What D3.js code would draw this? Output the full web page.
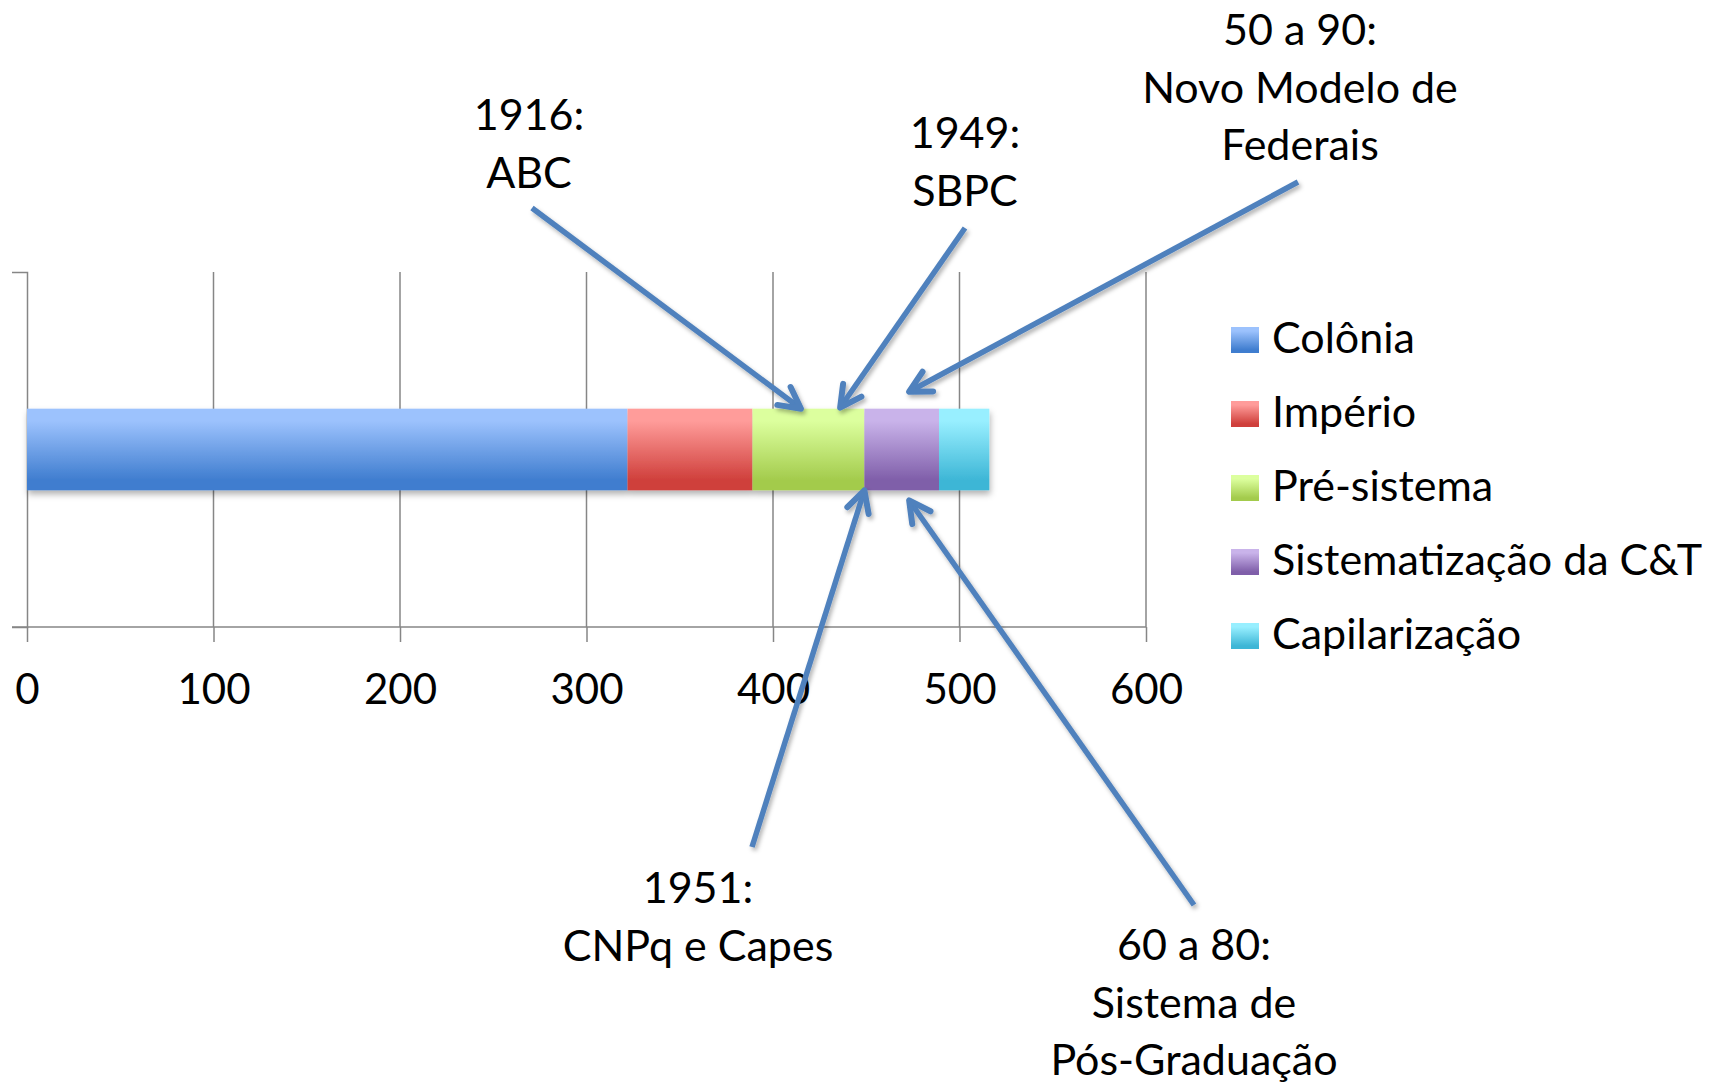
<!DOCTYPE html>
<html>
<head>
<meta charset="utf-8">
<script src="https://cdn.jsdelivr.net/npm/d3@7"></script>
<style>
  body { margin: 0; background: #fff; }
  svg text { font-family: Lato, "Open Sans", sans-serif; fill: #000; }
</style>
</head>
<body>
<div id="chart"></div>
<script>
// periods (years spent in each phase, stacked from 1500)
const periods = ["Colônia", "Império", "Pré-sistema", "Sistematização da C&T", "Capilarização"];
const periodYears = [322, 67, 60, 40, 27];
const xTicks = [0, 100, 200, 300, 400, 500, 600];

// gradient colours per period: [top, bottom]
const topColors = ["#9cc2fd", "#ff9c9a", "#dcff9e", "#c9b3ea", "#98efff"];
const bottomColors = ["#3f7dcf", "#cf3f3b", "#a3cb4c", "#7f5ea9", "#3db6d6"];

// annotation texts and the value on the bar each arrow points to
const notes = [
  ["1916:", "ABC"],
  ["1949:", "SBPC"],
  ["50 a 90:", "Novo Modelo de", "Federais"],
  ["1951:", "CNPq e Capes"],
  ["60 a 80:", "Sistema de", "Pós-Graduação"]
];
const noteTargets = [415, 436, 473, 449, 473];
const noteSides = ["top", "top", "top", "bottom", "bottom"];

const width = 1714, height = 1084;
const fontSize = 42;

const svg = d3.select("#chart").append("svg")
    .attr("width", width)
    .attr("height", height);

const defs = svg.append("defs");

periods.forEach((p, i) => {
    const g = defs.append("linearGradient")
        .attr("id", "grad" + i)
        .attr("x1", 0).attr("y1", 0).attr("x2", 0).attr("y2", 1);
    g.append("stop").attr("offset", "0%").attr("stop-color", topColors[i]);
    g.append("stop").attr("offset", "15%").attr("stop-color", topColors[i]);
    g.append("stop").attr("offset", "88%").attr("stop-color", bottomColors[i]);
    g.append("stop").attr("offset", "100%").attr("stop-color", bottomColors[i]);
});

const barShadow = defs.append("filter").attr("id", "barShadow")
    .attr("x", "-5%").attr("y", "-20%").attr("width", "110%").attr("height", "160%");
barShadow.append("feDropShadow")
    .attr("dx", 1).attr("dy", 4).attr("stdDeviation", 3)
    .attr("flood-color", "#000").attr("flood-opacity", 0.3);

const arrowShadow = defs.append("filter").attr("id", "arrowShadow")
    .attr("x", "-20%").attr("y", "-20%").attr("width", "140%").attr("height", "140%");
arrowShadow.append("feDropShadow")
    .attr("dx", 2).attr("dy", 3).attr("stdDeviation", 2)
    .attr("flood-color", "#000").attr("flood-opacity", 0.3);

// --- scales ---
const plotLeft = 27, plotRight = 1146, plotTop = 272, plotBottom = 627;

const x = d3.scaleLinear()
    .domain([0, 600])
    .range([plotLeft, plotRight]);

const y = d3.scaleBand()
    .domain(["timeline"])
    .range([plotTop, plotBottom])
    .paddingInner(0.77)
    .paddingOuter(0.385);

const gridColor = "#868686";

// gridlines
svg.append("g")
    .selectAll("line")
    .data(xTicks.slice(1))
    .join("line")
    .attr("x1", d => x(d)).attr("x2", d => x(d))
    .attr("y1", plotTop).attr("y2", plotBottom)
    .attr("stroke", gridColor)
    .attr("stroke-width", 1.5);

// x axis
const xAxis = svg.append("g")
    .attr("transform", `translate(0,${plotBottom})`)
    .call(d3.axisBottom(x).tickValues(xTicks).tickSize(15).tickPadding(32).tickSizeOuter(0));
xAxis.select(".domain").remove();
xAxis.selectAll(".tick line").attr("stroke", gridColor).attr("stroke-width", 1.5);
xAxis.selectAll(".tick text")
    .style("font-size", fontSize + "px")
    .attr("fill", "#000");

svg.append("line")
    .attr("x1", plotLeft - 15).attr("x2", plotRight)
    .attr("y1", plotBottom).attr("y2", plotBottom)
    .attr("stroke", gridColor).attr("stroke-width", 1.5);

// y axis (category axis without labels)
const yAxis = svg.append("g")
    .attr("transform", `translate(${plotLeft},0)`)
    .call(d3.axisLeft(y).tickValues([]).tickSizeOuter(15));
yAxis.select(".domain").attr("stroke", gridColor).attr("stroke-width", 1.5);

// stacked bar
const stacked = [];
let acc = 0;
periodYears.forEach((v, i) => {
    stacked.push({ name: periods[i], start: acc, end: acc + v, i });
    acc += v;
});

const barGroup = svg.append("g").attr("filter", "url(#barShadow)");
barGroup.selectAll("rect")
    .data(stacked)
    .join("rect")
    .attr("x", d => x(d.start))
    .attr("width", d => x(d.end) - x(d.start))
    .attr("y", y("timeline"))
    .attr("height", y.bandwidth())
    .attr("fill", d => `url(#grad${d.i})`);

// legend
const legend = svg.append("g").attr("transform", "translate(1231,327)");
const legendStep = 74;
periods.forEach((p, i) => {
    const row = legend.append("g").attr("transform", `translate(0,${i * legendStep})`);
    row.append("rect")
        .attr("width", 28).attr("height", 26)
        .attr("fill", `url(#grad${i})`);
    row.append("text")
        .attr("x", 41).attr("y", 26)
        .style("font-size", "43px")
        .text(p);
});

// annotations: label position (text centre x, first baseline) and arrow tail
const noteLayout = [
    { tx: 529, ty: 130, ax: 532, ay: 208, gap: 0 },
    { tx: 965, ty: 148, ax: 965, ay: 228, gap: 1 },
    { tx: 1300, ty: 45, ax: 1298, ay: 182, gap: 17 },
    { tx: 698, ty: 903, ax: 752, ay: 847, gap: 0 },
    { tx: 1194, ty: 960, ax: 1194, ay: 905, gap: 10 }
];
const lineHeight = 57.5;
const arrowColor = "#4f81bd";

const noteGroup = svg.append("g");
const arrows = noteGroup.append("g").attr("filter", "url(#arrowShadow)");

notes.forEach((lines, i) => {
    const L = noteLayout[i];
    const t = noteGroup.append("text")
        .attr("text-anchor", "middle")
        .style("font-size", "43px");
    lines.forEach((ln, j) => {
        t.append("tspan")
            .attr("x", L.tx)
            .attr("y", L.ty + j * lineHeight)
            .text(ln);
    });

    const tipX = x(noteTargets[i]);
    const tipY = noteSides[i] === "top"
        ? y("timeline") - L.gap
        : y("timeline") + y.bandwidth() + L.gap;

    const ang = Math.atan2(tipY - L.ay, tipX - L.ax);
    const headLen = 24, headAng = Math.PI / 6.5;
    const w1 = [tipX - headLen * Math.cos(ang - headAng), tipY - headLen * Math.sin(ang - headAng)];
    const w2 = [tipX - headLen * Math.cos(ang + headAng), tipY - headLen * Math.sin(ang + headAng)];

    arrows.append("line")
        .attr("x1", L.ax).attr("y1", L.ay)
        .attr("x2", tipX - 2 * Math.cos(ang)).attr("y2", tipY - 2 * Math.sin(ang))
        .attr("stroke", arrowColor)
        .attr("stroke-width", 5.5);

    arrows.append("path")
        .attr("d", d3.line()([w1, [tipX, tipY], w2]))
        .attr("fill", "none")
        .attr("stroke", arrowColor)
        .attr("stroke-width", 6)
        .attr("stroke-linejoin", "round")
        .attr("stroke-linecap", "round");
});
</script>
</body>
</html>
